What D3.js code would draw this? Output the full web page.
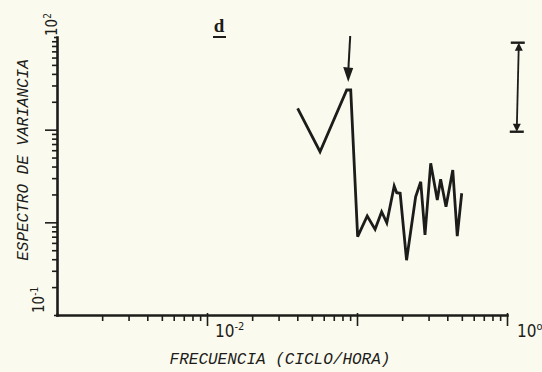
<!DOCTYPE html>
<html>
<head>
<meta charset="utf-8">
<script src="https://cdn.jsdelivr.net/npm/d3@7"></script>
<style>
  html, body { margin: 0; padding: 0; background: #fbfaee; }
  svg { display: block; }
</style>
</head>
<body>
<svg id="chart" width="542" height="372"></svg>
<script>
// Variance spectrum: frequency (cycles per hour) and spectral estimate
const frequency = [0.0402, 0.0567, 0.0854, 0.0908, 0.101, 0.117, 0.132, 0.146, 0.158,
                   0.177, 0.184, 0.194, 0.214, 0.246, 0.266, 0.284, 0.310, 0.343,
                   0.361, 0.392, 0.435, 0.466, 0.499];
const spectrum  = [17.0, 5.78, 26.8, 26.8, 0.70, 1.17, 0.84, 1.30, 0.99,
                   2.47, 2.09, 2.06, 0.39, 1.89, 2.74, 0.73, 4.34, 1.74,
                   2.91, 1.47, 3.67, 0.71, 2.06];

// Axis extents and labelled decades
const xDomain = [1e-3, 1];
const yDomain = [1e-1, 1e2];
const xTickLabels = [{ value: 1e-2, base: "10", exp: "-2" }, { value: 1, base: "10", exp: "o" }];
const yTickLabels = [{ value: 1e2, base: "10", exp: "2" }, { value: 1e-1, base: "10", exp: "-1" }];

// Confidence interval bar (spectral units) and the marked peak
const confidenceBar = { frequency: 1.18, low: 9.5, high: 86.8 };
const markedPeak = { frequency: 0.0908, value: 26.8 };

const panelLabel = "d";
const xTitle = "FRECUENCIA (CICLO/HORA)";
const yTitle = "ESPECTRO DE VARIANCIA";

const ink = "#1c1c1a";
const svg = d3.select("#chart");

const x = d3.scaleLog().domain(xDomain).range([57, 507]);
const y = d3.scaleLog().domain(yDomain).range([315, 37]);

const isDecade = v => Math.abs(Math.log10(v) - Math.round(Math.log10(v))) < 1e-9;

// ---- axes ----
const xTicks = x.ticks();
const yTicks = y.ticks();

const xAxis = svg.append("g")
  .attr("transform", `translate(0,${y(yDomain[0])})`)
  .call(d3.axisBottom(x).tickValues(xTicks).tickSize(6).tickSizeOuter(0).tickFormat(""));
xAxis.selectAll(".tick line")
  .attr("y1", d => isDecade(d) ? -2 : 0)
  .attr("y2", d => isDecade(d) && d !== xDomain[0] ? 11 : (d === xDomain[0] ? 0 : 6));

const yAxis = svg.append("g")
  .attr("transform", `translate(${x(xDomain[0])},0)`)
  .call(d3.axisLeft(y).tickValues(yTicks).tickSize(5).tickSizeOuter(0).tickFormat(""));
yAxis.selectAll(".tick line")
  .attr("x2", d => (d === yDomain[0] || d === yDomain[1]) ? -3 : (isDecade(d) ? -12 : -5));

[xAxis, yAxis].forEach(g => {
  g.select(".domain").attr("stroke", ink).attr("stroke-width", 2.6).attr("stroke-linecap", "square");
  g.selectAll(".tick line").attr("stroke", ink).attr("stroke-width", 1.6);
});

// decade labels on the x axis
const xLab = svg.append("g")
  .attr("font-family", "'Liberation Sans Narrow','DejaVu Sans Condensed',sans-serif")
  .attr("fill", ink);
xTickLabels.forEach(t => {
  const txt = xLab.append("text")
    .attr("x", x(t.value) + (t.value === 1 ? 10 : 8))
    .attr("y", y(yDomain[0]) + 22)
    .attr("font-size", 17);
  txt.append("tspan").text(t.base);
  txt.append("tspan").attr("dy", -7).attr("font-size", 11).text(t.exp);
});

// decade labels on the y axis (rotated)
const yLab = svg.append("g")
  .attr("font-family", "'Liberation Sans Narrow','DejaVu Sans Condensed',sans-serif")
  .attr("fill", ink);
yTickLabels.forEach(t => {
  const top = t.value === yDomain[1];
  const bx = top ? 57 : 44;
  const by = top ? y(t.value) - 1 : y(t.value) - 2;
  const txt = yLab.append("text")
    .attr("transform", `translate(${bx},${by}) rotate(-90)`)
    .attr("font-size", 15);
  txt.append("tspan").text(t.base);
  txt.append("tspan").attr("dy", -6).attr("font-size", 10).text(t.exp);
});

// ---- spectrum line ----
const points = frequency.map((f, i) => [f, spectrum[i]]);
svg.append("path")
  .datum(points)
  .attr("fill", "none")
  .attr("stroke", ink)
  .attr("stroke-width", 2.8)
  .attr("stroke-linejoin", "miter")
  .attr("d", d3.line().x(d => x(d[0])).y(d => y(d[1])));

// ---- arrow marking the peak ----
const ax = x(markedPeak.frequency) - 2.5;
const tipY = y(markedPeak.value) - 8;
svg.append("line")
  .attr("x1", ax + 2).attr("y1", tipY - 46)
  .attr("x2", ax).attr("y2", tipY - 10)
  .attr("stroke", ink).attr("stroke-width", 2);
svg.append("path")
  .attr("d", `M${ax - 5},${tipY - 15} L${ax + 5},${tipY - 14} L${ax},${tipY} Z`)
  .attr("fill", ink);

// ---- confidence interval bar ----
const cx = x(confidenceBar.frequency);
const cTop = y(confidenceBar.high);
const cBot = y(confidenceBar.low);
const bar = svg.append("g").attr("stroke", ink).attr("fill", ink);
bar.append("line")
  .attr("x1", cx + 1).attr("y1", cTop + 2).attr("x2", cx - 1).attr("y2", cBot - 2)
  .attr("stroke-width", 1.8);
bar.append("line").attr("x1", cx - 7).attr("x2", cx + 7).attr("y1", cTop).attr("y2", cTop).attr("stroke-width", 2.4);
bar.append("line").attr("x1", cx - 8).attr("x2", cx + 6).attr("y1", cBot).attr("y2", cBot).attr("stroke-width", 2.4);
bar.append("path").attr("stroke", "none")
  .attr("d", `M${cx + 1},${cTop} L${cx - 3},${cTop + 8} L${cx + 5},${cTop + 8} Z`);
bar.append("path").attr("stroke", "none")
  .attr("d", `M${cx - 1},${cBot} L${cx - 5},${cBot - 8} L${cx + 3},${cBot - 8} Z`);

// ---- titles ----
svg.append("text")
  .attr("x", 280).attr("y", 364)
  .attr("text-anchor", "middle")
  .attr("font-family", "'Liberation Mono','DejaVu Sans Mono',monospace")
  .attr("font-style", "italic")
  .attr("font-size", 16)
  .attr("fill", ink)
  .text(xTitle);

svg.append("text")
  .attr("transform", "translate(28,160) rotate(-90)")
  .attr("text-anchor", "middle")
  .attr("font-family", "'Liberation Mono','DejaVu Sans Mono',monospace")
  .attr("font-style", "italic")
  .attr("font-size", 16)
  .attr("fill", ink)
  .text(yTitle);

// panel letter, underlined
svg.append("text")
  .attr("x", 219).attr("y", 32)
  .attr("text-anchor", "middle")
  .attr("font-family", "'Liberation Serif','DejaVu Serif',serif")
  .attr("font-weight", "bold")
  .attr("font-size", 19)
  .attr("fill", ink)
  .text(panelLabel);
svg.append("line")
  .attr("x1", 213).attr("x2", 226).attr("y1", 37).attr("y2", 37)
  .attr("stroke", ink).attr("stroke-width", 2);
</script>
</body>
</html>
